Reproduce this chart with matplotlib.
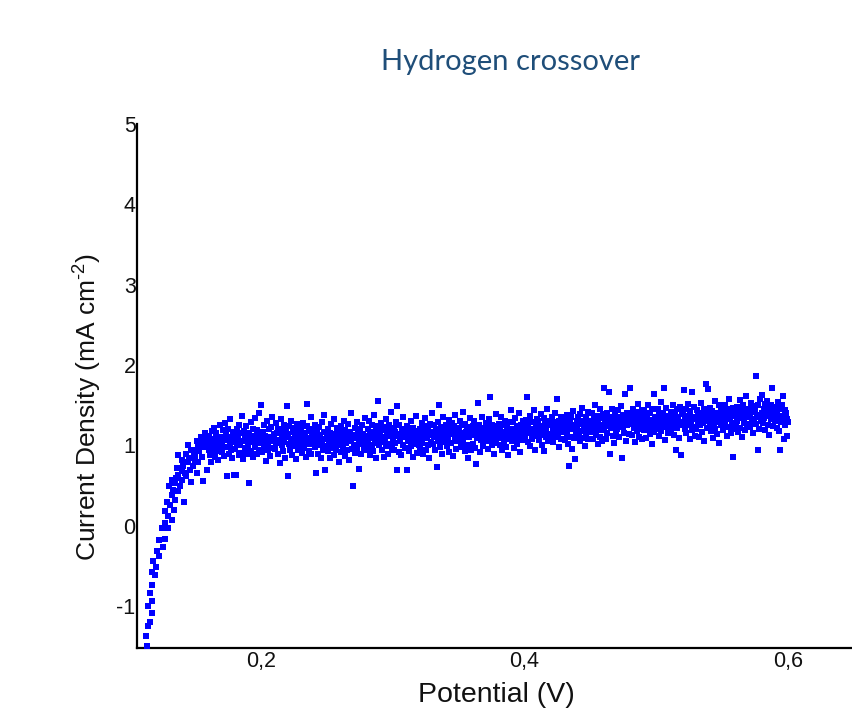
"""Hydrogen crossover – LSV scatter → out.png"""
import matplotlib
matplotlib.use("Agg")
import matplotlib.pyplot as plt
import numpy as np

# ── palette / fonts ──────────────────────────────────────────────────────────
C_POINT = "#0000FF"
C_TITLE = "#1F4E79"
C_AXIS = "#000000"
FONT = ["Liberation Sans", "DejaVu Sans"]

plt.rcParams["mathtext.fontset"] = "custom"
plt.rcParams["mathtext.rm"] = "Liberation Sans"
plt.rcParams["mathtext.it"] = "Liberation Sans:italic"
plt.rcParams["mathtext.bf"] = "Liberation Sans:bold"

# ── data: rising part (V, mA cm-2) ───────────────────────────────────────────
RISE_POT = [
    0.1123, 0.1133, 0.1138, 0.1143, 0.1153, 0.1153, 0.1169, 0.1170, 0.1170, 0.1174,
    0.1180, 0.1194, 0.1200, 0.1210, 0.1224, 0.1224, 0.1245, 0.1255, 0.1270, 0.1270,
    0.1270, 0.1285, 0.1295, 0.1295, 0.1300, 0.1310, 0.1320, 0.1320, 0.1320, 0.1330,
    0.1340, 0.1346, 0.1346, 0.1350, 0.1360, 0.1367, 0.1370, 0.1370, 0.1380, 0.1397,
    0.1397, 0.1400, 0.1410, 0.1417, 0.1420, 0.1430, 0.1430, 0.1447, 0.1447, 0.1450,
    0.1460, 0.1470, 0.1470, 0.1480, 0.1485, 0.1490, 0.1500, 0.1500, 0.1510, 0.1510,
    0.1520, 0.1523, 0.1530, 0.1540, 0.1550, 0.1557, 0.1560, 0.1560, 0.1570, 0.1580,
    0.1590, 0.1590,
]
RISE_CUR = [
    -1.37, -1.50, -1.25, -1.00, -1.20, -0.83, -1.08, -0.94, -0.74, -0.57,
    -0.44, -0.61, -0.51, -0.31, -0.38, -0.17, -0.03, -0.26, -0.16, 0.03,
    0.18, 0.30, -0.03, 0.12, 0.49, 0.26, 0.07, 0.39, 0.57, 0.45,
    0.20, 0.32, 0.53, 0.60, 0.72, 0.43, 0.63, 0.88, 0.50, 0.57,
    0.82, 0.68, 0.74, 0.30, 0.66, 0.90, 0.62, 0.80, 1.01, 0.85,
    0.70, 0.55, 0.95, 0.75, 0.95, 0.88, 0.82, 0.90, 0.66, 1.05,
    0.80, 0.99, 0.93, 1.10, 0.86, 0.56, 1.03, 0.98, 1.15, 1.00,
    0.70, 1.08,
]

# ── data: plateau, potential in mV (one block of 10 mV per line) ─────────────
PLAT_MV = [
    160.0, 160.5, 161.0, 161.5, 162.0, 162.5, 163.0, 163.5, 164.0, 164.5, 165.0, 165.5, 166.0, 166.5, 167.0, 167.5, 168.0, 168.5, 169.0, 169.5,
    170.0, 170.5, 171.0, 171.5, 172.0, 172.5, 173.0, 173.5, 174.0, 174.5, 175.0, 175.5, 176.0, 176.5, 177.0, 177.5, 178.0, 178.5, 179.0, 179.5,
    180.0, 180.5, 181.0, 181.5, 182.0, 182.5, 183.0, 183.5, 184.0, 184.5, 185.0, 185.5, 186.0, 186.5, 187.0, 187.5, 188.0, 188.5, 189.0, 189.5,
    190.0, 190.5, 191.0, 191.5, 192.0, 192.5, 193.0, 193.5, 194.0, 194.5, 195.0, 195.5, 196.0, 196.5, 197.0, 197.5, 198.0, 198.5, 199.0, 199.5,
    200.0, 200.5, 201.0, 201.5, 202.0, 202.5, 203.0, 203.5, 204.0, 204.5, 205.0, 205.5, 206.0, 206.5, 207.0, 207.5, 208.0, 208.5, 209.0, 209.5,
    210.0, 210.5, 211.0, 211.5, 212.0, 212.5, 213.0, 213.5, 214.0, 214.5, 215.0, 215.5, 216.0, 216.5, 217.0, 217.5, 218.0, 218.5, 219.0, 219.5,
    220.0, 220.5, 221.0, 221.5, 222.0, 222.5, 223.0, 223.5, 224.0, 224.5, 225.0, 225.5, 226.0, 226.5, 227.0, 227.5, 228.0, 228.5, 229.0, 229.5,
    230.0, 230.5, 231.0, 231.5, 232.0, 232.5, 233.0, 233.5, 234.0, 234.5, 235.0, 235.5, 236.0, 236.5, 237.0, 237.5, 238.0, 238.5, 239.0, 239.5,
    240.0, 240.5, 241.0, 241.5, 242.0, 242.5, 243.0, 243.5, 244.0, 244.5, 245.0, 245.5, 246.0, 246.5, 247.0, 247.5, 248.0, 248.5, 249.0, 249.5,
    250.0, 250.5, 251.0, 251.5, 252.0, 252.5, 253.0, 253.5, 254.0, 254.5, 255.0, 255.5, 256.0, 256.5, 257.0, 257.5, 258.0, 258.5, 259.0, 259.5,
    260.0, 260.5, 261.0, 261.5, 262.0, 262.5, 263.0, 263.5, 264.0, 264.5, 265.0, 265.5, 266.0, 266.5, 267.0, 267.5, 268.0, 268.5, 269.0, 269.5,
    270.0, 270.5, 271.0, 271.5, 272.0, 272.5, 273.0, 273.5, 274.0, 274.5, 275.0, 275.5, 276.0, 276.5, 277.0, 277.5, 278.0, 278.5, 279.0, 279.5,
    280.0, 280.5, 281.0, 281.5, 282.0, 282.5, 283.0, 283.5, 284.0, 284.5, 285.0, 285.5, 286.0, 286.5, 287.0, 287.5, 288.0, 288.5, 289.0, 289.5,
    290.0, 290.5, 291.0, 291.5, 292.0, 292.5, 293.0, 293.5, 294.0, 294.5, 295.0, 295.5, 296.0, 296.5, 297.0, 297.5, 298.0, 298.5, 299.0, 299.5,
    300.0, 300.5, 301.0, 301.5, 302.0, 302.5, 303.0, 303.5, 304.0, 304.5, 305.0, 305.5, 306.0, 306.5, 307.0, 307.5, 308.0, 308.5, 309.0, 309.5,
    310.0, 310.5, 311.0, 311.5, 312.0, 312.5, 313.0, 313.5, 314.0, 314.5, 315.0, 315.5, 316.0, 316.5, 317.0, 317.5, 318.0, 318.5, 319.0, 319.5,
    320.0, 320.5, 321.0, 321.5, 322.0, 322.5, 323.0, 323.5, 324.0, 324.5, 325.0, 325.5, 326.0, 326.5, 327.0, 327.5, 328.0, 328.5, 329.0, 329.5,
    330.0, 330.5, 331.0, 331.5, 332.0, 332.5, 333.0, 333.5, 334.0, 334.5, 335.0, 335.5, 336.0, 336.5, 337.0, 337.5, 338.0, 338.5, 339.0, 339.5,
    340.0, 340.5, 341.0, 341.5, 342.0, 342.5, 343.0, 343.5, 344.0, 344.5, 345.0, 345.5, 346.0, 346.5, 347.0, 347.5, 348.0, 348.5, 349.0, 349.5,
    350.0, 350.5, 351.0, 351.5, 352.0, 352.5, 353.0, 353.5, 354.0, 354.5, 355.0, 355.5, 356.0, 356.5, 357.0, 357.5, 358.0, 358.5, 359.0, 359.5,
    360.0, 360.5, 361.0, 361.5, 362.0, 362.5, 363.0, 363.5, 364.0, 364.5, 365.0, 365.5, 366.0, 366.5, 367.0, 367.5, 368.0, 368.5, 369.0, 369.5,
    370.0, 370.5, 371.0, 371.5, 372.0, 372.5, 373.0, 373.5, 374.0, 374.5, 375.0, 375.5, 376.0, 376.5, 377.0, 377.5, 378.0, 378.5, 379.0, 379.5,
    380.0, 380.5, 381.0, 381.5, 382.0, 382.5, 383.0, 383.5, 384.0, 384.5, 385.0, 385.5, 386.0, 386.5, 387.0, 387.5, 388.0, 388.5, 389.0, 389.5,
    390.0, 390.5, 391.0, 391.5, 392.0, 392.5, 393.0, 393.5, 394.0, 394.5, 395.0, 395.5, 396.0, 396.5, 397.0, 397.5, 398.0, 398.5, 399.0, 399.5,
    400.0, 400.5, 401.0, 401.5, 402.0, 402.5, 403.0, 403.5, 404.0, 404.5, 405.0, 405.5, 406.0, 406.5, 407.0, 407.5, 408.0, 408.5, 409.0, 409.5,
    410.0, 410.5, 411.0, 411.5, 412.0, 412.5, 413.0, 413.5, 414.0, 414.5, 415.0, 415.5, 416.0, 416.5, 417.0, 417.5, 418.0, 418.5, 419.0, 419.5,
    420.0, 420.5, 421.0, 421.5, 422.0, 422.5, 423.0, 423.5, 424.0, 424.5, 425.0, 425.5, 426.0, 426.5, 427.0, 427.5, 428.0, 428.5, 429.0, 429.5,
    430.0, 430.5, 431.0, 431.5, 432.0, 432.5, 433.0, 433.5, 434.0, 434.5, 435.0, 435.5, 436.0, 436.5, 437.0, 437.5, 438.0, 438.5, 439.0, 439.5,
    440.0, 440.5, 441.0, 441.5, 442.0, 442.5, 443.0, 443.5, 444.0, 444.5, 445.0, 445.5, 446.0, 446.5, 447.0, 447.5, 448.0, 448.5, 449.0, 449.5,
    450.0, 450.5, 451.0, 451.5, 452.0, 452.5, 453.0, 453.5, 454.0, 454.5, 455.0, 455.5, 456.0, 456.5, 457.0, 457.5, 458.0, 458.5, 459.0, 459.5,
    460.0, 460.5, 461.0, 461.5, 462.0, 462.5, 463.0, 463.5, 464.0, 464.5, 465.0, 465.5, 466.0, 466.5, 467.0, 467.5, 468.0, 468.5, 469.0, 469.5,
    470.0, 470.5, 471.0, 471.5, 472.0, 472.5, 473.0, 473.5, 474.0, 474.5, 475.0, 475.5, 476.0, 476.5, 477.0, 477.5, 478.0, 478.5, 479.0, 479.5,
    480.0, 480.5, 481.0, 481.5, 482.0, 482.5, 483.0, 483.5, 484.0, 484.5, 485.0, 485.5, 486.0, 486.5, 487.0, 487.5, 488.0, 488.5, 489.0, 489.5,
    490.0, 490.5, 491.0, 491.5, 492.0, 492.5, 493.0, 493.5, 494.0, 494.5, 495.0, 495.5, 496.0, 496.5, 497.0, 497.5, 498.0, 498.5, 499.0, 499.5,
    500.0, 500.5, 501.0, 501.5, 502.0, 502.5, 503.0, 503.5, 504.0, 504.5, 505.0, 505.5, 506.0, 506.5, 507.0, 507.5, 508.0, 508.5, 509.0, 509.5,
    510.0, 510.5, 511.0, 511.5, 512.0, 512.5, 513.0, 513.5, 514.0, 514.5, 515.0, 515.5, 516.0, 516.5, 517.0, 517.5, 518.0, 518.5, 519.0, 519.5,
    520.0, 520.5, 521.0, 521.5, 522.0, 522.5, 523.0, 523.5, 524.0, 524.5, 525.0, 525.5, 526.0, 526.5, 527.0, 527.5, 528.0, 528.5, 529.0, 529.5,
    530.0, 530.5, 531.0, 531.5, 532.0, 532.5, 533.0, 533.5, 534.0, 534.5, 535.0, 535.5, 536.0, 536.5, 537.0, 537.5, 538.0, 538.5, 539.0, 539.5,
    540.0, 540.5, 541.0, 541.5, 542.0, 542.5, 543.0, 543.5, 544.0, 544.5, 545.0, 545.5, 546.0, 546.5, 547.0, 547.5, 548.0, 548.5, 549.0, 549.5,
    550.0, 550.5, 551.0, 551.5, 552.0, 552.5, 553.0, 553.5, 554.0, 554.5, 555.0, 555.5, 556.0, 556.5, 557.0, 557.5, 558.0, 558.5, 559.0, 559.5,
    560.0, 560.5, 561.0, 561.5, 562.0, 562.5, 563.0, 563.5, 564.0, 564.5, 565.0, 565.5, 566.0, 566.5, 567.0, 567.5, 568.0, 568.5, 569.0, 569.5,
    570.0, 570.5, 571.0, 571.5, 572.0, 572.5, 573.0, 573.5, 574.0, 574.5, 575.0, 575.5, 576.0, 576.5, 577.0, 577.5, 578.0, 578.5, 579.0, 579.5,
    580.0, 580.5, 581.0, 581.5, 582.0, 582.5, 583.0, 583.5, 584.0, 584.5, 585.0, 585.5, 586.0, 586.5, 587.0, 587.5, 588.0, 588.5, 589.0, 589.5,
    590.0, 590.5, 591.0, 591.5, 592.0, 592.5, 593.0, 593.5, 594.0, 594.5, 595.0, 595.5, 596.0, 596.5, 597.0, 597.5, 598.0, 598.5, 599.0, 599.5,
    600.0,
]
PLAT_CUR = [
    0.95, 1.12, 0.88, 1.04, 0.79, 1.18, 0.97, 1.08, 0.91, 1.22, 0.86, 1.01, 1.15, 0.93, 1.06, 0.82, 1.10, 0.99, 1.25, 0.94,
    1.05, 0.92, 1.19, 1.10, 0.87, 1.28, 0.98, 1.14, 0.62, 1.07, 1.21, 0.90, 1.02, 1.33, 0.95, 1.11, 0.84, 1.17, 0.63, 1.04,
    1.13, 0.96, 0.63, 1.20, 1.02, 1.09, 0.88, 1.26, 1.00, 1.15, 0.91, 1.37, 1.06, 0.83, 1.18, 1.11, 0.97, 1.24, 0.89, 1.08,
    1.01, 0.53, 1.16, 1.09, 0.93, 1.29, 1.04, 0.86, 1.21, 1.12, 0.98, 1.34, 1.07, 0.90, 1.19, 1.03, 1.41, 0.95, 1.14, 1.10,
    1.50, 1.06, 0.92, 1.17, 1.25, 0.99, 1.12, 0.81, 1.08, 1.30, 1.02, 0.94, 1.20, 1.11, 0.87, 1.23, 1.05, 1.36, 0.97, 1.14,
    1.09, 0.96, 1.28, 1.03, 1.15, 0.89, 1.21, 1.07, 0.78, 1.18, 1.33, 1.00, 1.12, 0.93, 1.26, 1.04, 0.85, 1.19, 1.10, 1.49,
    0.62, 1.14, 1.02, 1.24, 0.95, 1.08, 1.31, 0.88, 1.17, 1.05, 0.99, 1.22, 1.10, 0.83, 1.16, 1.27, 0.94, 1.06, 1.13, 1.01,
    1.07, 1.20, 0.91, 1.11, 1.28, 0.97, 1.03, 1.16, 0.86, 1.24, 1.52, 1.09, 0.93, 1.18, 1.02, 1.35, 0.89, 1.12, 1.05, 1.21,
    1.15, 0.98, 1.26, 1.04, 0.66, 1.19, 1.10, 0.90, 1.23, 1.01, 1.13, 0.85, 1.29, 1.06, 0.95, 1.17, 1.38, 0.69, 1.08, 0.99,
    1.11, 0.93, 1.20, 1.04, 0.84, 1.16, 1.27, 0.97, 1.09, 1.02, 1.33, 0.88, 1.14, 1.06, 0.95, 1.22, 1.00, 1.12, 0.80, 1.18,
    1.05, 1.24, 0.92, 1.15, 1.08, 0.99, 1.31, 0.87, 1.19, 1.03, 1.12, 0.94, 1.27, 1.10, 0.82, 1.17, 1.06, 1.40, 0.96, 0.50,
    1.13, 1.01, 1.22, 0.91, 1.09, 1.29, 0.97, 1.16, 0.71, 1.04, 1.20, 1.11, 0.89, 1.25, 1.02, 1.14, 0.95, 1.07, 1.34, 0.99,
    1.12, 0.96, 1.21, 1.05, 1.30, 0.88, 1.17, 1.09, 1.01, 1.26, 0.93, 1.14, 1.38, 1.03, 0.85, 1.19, 1.08, 1.24, 1.55, 1.00,
    1.15, 1.04, 1.28, 0.94, 1.19, 1.10, 0.86, 1.23, 1.07, 1.33, 0.99, 1.16, 1.12, 0.90, 1.26, 1.02, 1.20, 1.42, 0.97, 1.13,
    1.08, 1.22, 0.95, 1.17, 1.03, 1.29, 0.70, 1.49, 1.12, 0.92, 1.25, 1.06, 1.14, 0.88, 1.20, 1.01, 1.35, 1.10, 0.97, 1.18,
    1.14, 0.70, 1.24, 1.05, 0.93, 1.19, 1.09, 1.31, 0.99, 1.16, 0.86, 1.22, 1.07, 1.13, 1.02, 1.37, 0.91, 1.18, 1.11, 1.00,
    1.06, 1.21, 0.97, 1.15, 1.28, 1.03, 0.89, 1.18, 1.11, 1.34, 0.95, 1.24, 1.09, 1.00, 1.19, 0.84, 1.27, 1.13, 1.04, 1.40,
    1.17, 1.02, 1.25, 1.10, 0.94, 1.21, 1.13, 0.73, 1.29, 1.06, 1.50, 0.98, 1.16, 1.23, 0.90, 1.12, 1.35, 1.04, 1.19, 1.08,
    1.11, 1.26, 0.99, 1.18, 1.07, 1.32, 0.92, 1.21, 1.14, 1.03, 1.28, 0.87, 1.17, 1.24, 1.09, 1.38, 0.96, 1.15, 1.06, 1.22,
    1.20, 1.08, 1.31, 0.98, 1.15, 1.25, 1.04, 1.42, 1.12, 0.93, 1.27, 1.17, 1.01, 1.23, 0.85, 1.19, 1.10, 1.34, 0.95, 1.14,
    1.13, 1.24, 1.02, 1.18, 1.30, 0.97, 1.21, 0.77, 1.09, 1.53, 1.15, 1.26, 0.92, 1.19, 1.07, 1.36, 1.11, 0.99, 1.22, 1.16,
    1.19, 1.05, 1.28, 1.12, 0.96, 1.23, 1.33, 1.08, 1.60, 1.15, 1.01, 1.26, 1.18, 0.90, 1.21, 1.10, 1.39, 1.03, 1.24, 1.13,
    1.14, 1.27, 1.00, 1.20, 1.09, 1.35, 0.94, 1.17, 1.25, 1.06, 1.12, 1.31, 0.98, 1.22, 1.15, 0.88, 1.29, 1.08, 1.18, 1.44,
    1.16, 1.05, 1.29, 1.21, 0.97, 1.13, 1.34, 1.09, 1.24, 1.02, 1.19, 1.40, 1.11, 0.92, 1.26, 1.17, 1.07, 1.31, 1.14, 1.22,
    1.23, 1.10, 1.32, 1.18, 1.60, 1.04, 1.26, 1.15, 1.37, 0.99, 1.21, 1.29, 1.08, 1.19, 1.44, 1.12, 0.95, 1.25, 1.16, 1.33,
    1.18, 1.30, 1.07, 1.24, 1.13, 1.39, 1.01, 1.22, 1.16, 1.34, 0.93, 1.27, 1.20, 1.11, 1.46, 1.05, 1.25, 1.14, 1.31, 1.09,
    1.26, 1.12, 1.35, 1.19, 1.04, 1.29, 1.22, 1.41, 1.10, 1.24, 1.58, 1.15, 1.31, 0.98, 1.21, 1.36, 1.08, 1.27, 1.17, 1.33,
    1.19, 1.31, 1.07, 1.25, 1.14, 1.38, 1.02, 0.75, 1.22, 1.28, 1.11, 1.35, 0.96, 1.20, 1.43, 1.09, 1.26, 0.83, 1.16, 1.30,
    1.21, 1.35, 1.12, 1.28, 1.05, 1.39, 1.18, 1.27, 1.47, 1.09, 1.31, 1.23, 0.99, 1.36, 1.15, 1.25, 1.42, 1.08, 1.29, 1.19,
    1.30, 1.17, 1.41, 1.24, 1.08, 1.33, 1.21, 1.50, 1.13, 1.27, 1.37, 1.02, 1.29, 1.19, 1.45, 1.11, 1.34, 1.25, 1.06, 1.39,
    1.72, 1.19, 1.33, 1.08, 1.28, 1.40, 1.15, 1.24, 1.67, 1.31, 0.90, 1.36, 1.22, 1.46, 1.12, 1.29, 1.03, 1.38, 1.26, 1.17,
    1.32, 1.20, 1.44, 1.26, 1.11, 1.35, 1.29, 1.49, 0.85, 1.23, 1.38, 1.16, 1.64, 1.30, 1.06, 1.41, 1.25, 1.33, 1.14, 1.37,
    1.72, 1.27, 1.39, 1.13, 1.31, 1.46, 1.22, 1.35, 1.04, 1.29, 1.42, 1.18, 1.33, 1.52, 1.10, 1.25, 1.37, 1.20, 1.44, 1.08,
    1.31, 1.19, 1.43, 1.26, 1.37, 1.09, 1.34, 1.50, 1.22, 1.29, 1.40, 1.14, 1.32, 1.02, 1.45, 1.24, 1.64, 1.17, 1.36, 1.28,
    1.33, 1.21, 1.45, 1.28, 1.12, 1.39, 1.30, 1.54, 1.18, 1.35, 1.26, 1.41, 1.72, 1.07, 1.32, 1.47, 1.23, 1.37, 1.15, 1.29,
    1.36, 1.24, 1.42, 1.19, 1.31, 1.50, 1.27, 1.13, 1.38, 1.33, 0.95, 1.45, 1.22, 1.35, 1.09, 1.29, 1.48, 0.88, 1.26, 1.40,
    1.28, 1.39, 1.69, 1.21, 1.34, 1.46, 1.16, 1.31, 1.52, 1.25, 1.37, 1.08, 1.43, 1.30, 1.19, 1.67, 1.35, 1.23, 1.48, 1.12,
    1.33, 1.20, 1.44, 1.29, 1.37, 1.11, 1.41, 1.25, 1.53, 1.17, 1.35, 1.28, 1.46, 1.05, 1.32, 1.39, 1.77, 1.22, 1.70, 1.30,
    1.36, 1.24, 1.47, 1.18, 1.32, 1.43, 1.09, 1.38, 1.27, 1.55, 1.21, 1.34, 1.41, 1.14, 1.29, 1.50, 1.03, 1.37, 1.25, 1.44,
    1.30, 1.42, 1.19, 1.36, 1.51, 1.26, 1.39, 1.12, 1.45, 1.33, 1.23, 1.58, 1.35, 1.16, 1.40, 1.28, 0.86, 1.47, 1.21, 1.37,
    1.39, 1.25, 1.48, 1.31, 1.17, 1.44, 1.36, 1.56, 1.22, 1.41, 1.10, 1.34, 1.50, 1.28, 1.43, 1.19, 1.38, 1.62, 1.27, 1.45,
    1.35, 1.46, 1.23, 1.40, 1.53, 1.30, 1.42, 1.15, 1.49, 1.33, 1.44, 1.87, 1.27, 1.38, 0.95, 1.51, 1.21, 1.36, 1.58, 1.31,
    1.40, 1.63, 1.28, 1.45, 1.34, 1.52, 1.19, 1.43, 1.37, 1.55, 1.26, 1.47, 1.13, 1.41, 1.33, 1.50, 1.72, 1.24, 1.46, 1.38,
    1.42, 1.31, 1.48, 1.22, 1.39, 1.54, 1.35, 1.18, 0.94, 1.45, 1.29, 1.51, 1.62, 1.37, 1.08, 1.44, 1.26, 1.40, 1.12, 1.33,
    1.29,
]

X_TICKS = [0.2, 0.4, 0.6]
X_TICKLABELS = ["0,2", "0,4", "0,6"]
Y_TICKS = [-1, 0, 1, 2, 3, 4, 5]
Y_TICKLABELS = ["-1", "0", "1", "2", "3", "4", "5"]

pot = np.concatenate([np.array(RISE_POT), np.array(PLAT_MV) / 1000.0])
cur = np.concatenate([np.array(RISE_CUR), np.array(PLAT_CUR)])

# ── figure ───────────────────────────────────────────────────────────────────
fig = plt.figure(figsize=(8.52, 7.09), dpi=100)
fig.patch.set_facecolor("white")
ax = fig.add_axes([0.1608, 0.0860, 0.8392, 0.7391])

ax.scatter(pot, cur, s=15, marker="s", color=C_POINT, linewidths=0, zorder=3)

ax.set_xlim(0.1057, 0.6487)
ax.set_ylim(-1.52, 5.0)

for side in ("top", "right"):
    ax.spines[side].set_visible(False)
for side in ("left", "bottom"):
    ax.spines[side].set_color(C_AXIS)
    ax.spines[side].set_linewidth(1.6)

ax.set_xticks(X_TICKS)
ax.set_xticklabels(X_TICKLABELS, family=FONT, fontsize=15.5)
ax.set_yticks(Y_TICKS)
ax.set_yticklabels(Y_TICKLABELS, family=FONT, fontsize=15.5)
ax.tick_params(axis="x", length=0, pad=2, colors="#111111")
ax.tick_params(axis="y", length=0, pad=1, colors="#111111")

ax.set_xlabel("Potential (V)", family=FONT, fontsize=20.5, color="#111111")
ax.xaxis.set_label_coords(0.502, -0.064)
ax.set_ylabel(r"Current Density (mA cm$^{\text{-2}}$)", family=FONT,
              fontsize=19, color="#111111")
ax.yaxis.set_label_coords(-0.046, 0.46)

fig.text(0.5986, 0.912, "Hydrogen crossover", family=["Lato", "DejaVu Sans"],
         fontsize=21, color=C_TITLE, ha="center", va="center")

fig.savefig("out.png", dpi=100, facecolor="white")
